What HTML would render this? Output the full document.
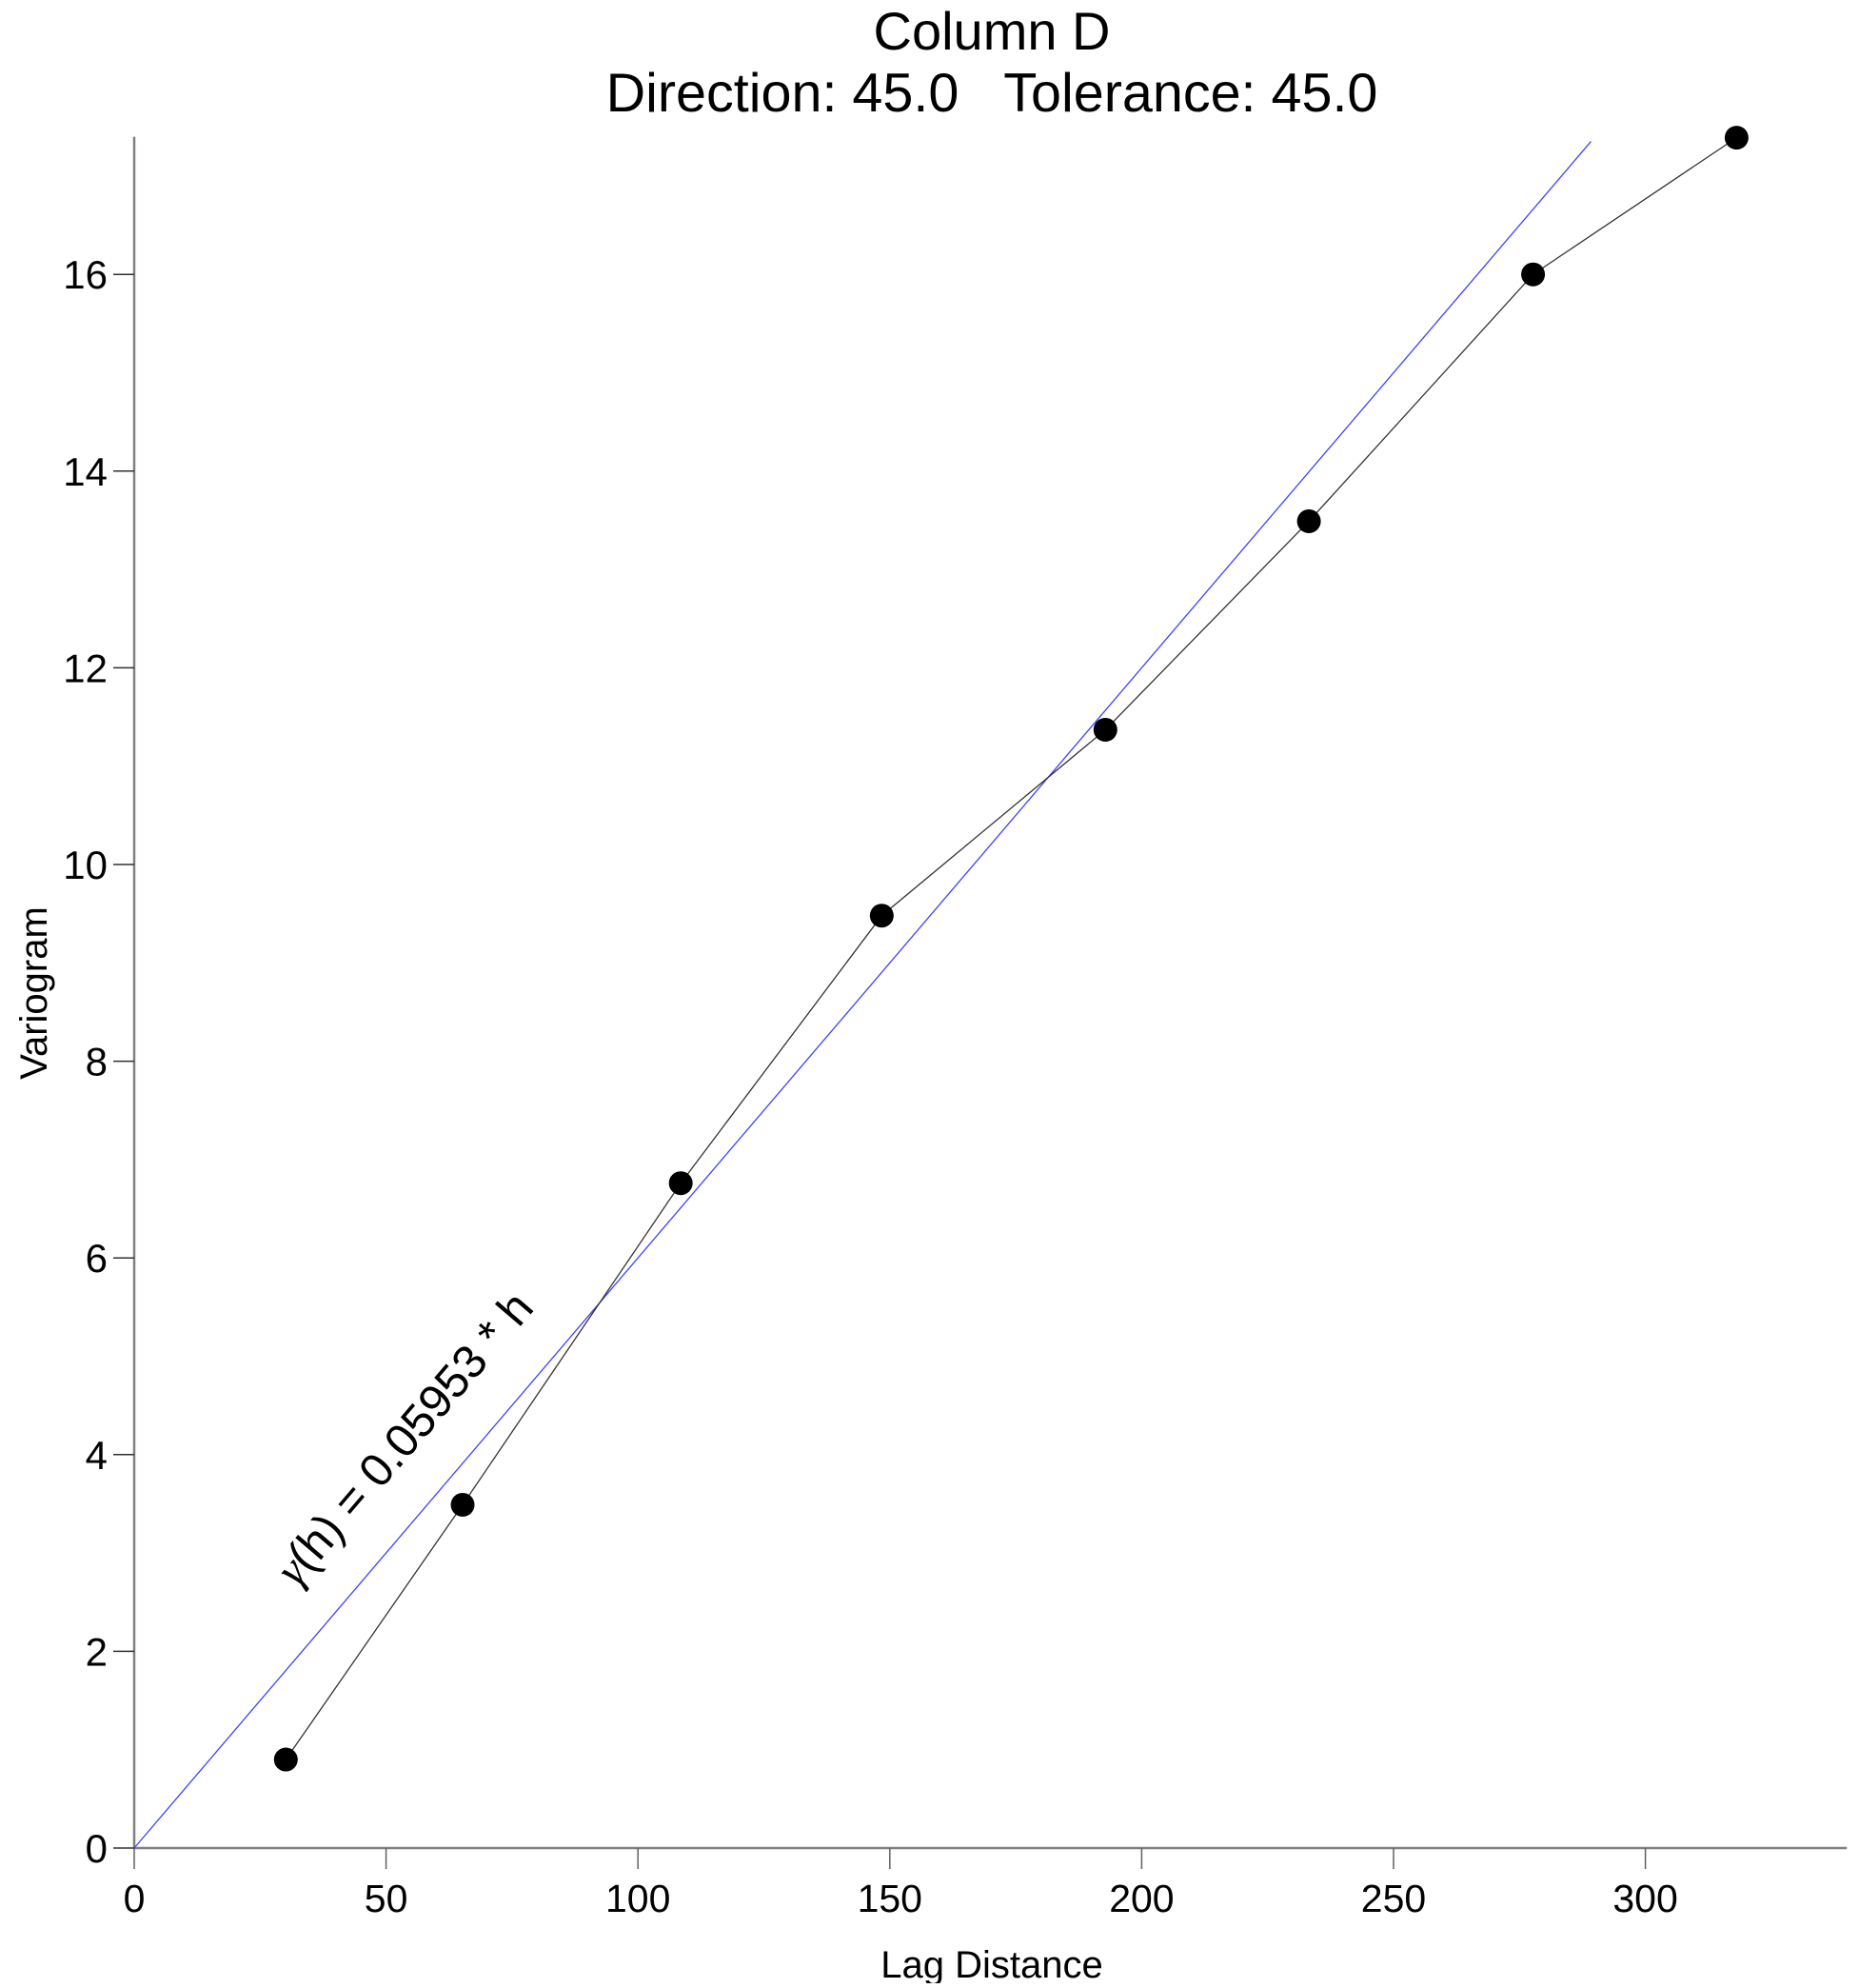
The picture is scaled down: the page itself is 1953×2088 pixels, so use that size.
<!DOCTYPE html>
<html><head><meta charset="utf-8"><style>
html,body{margin:0;padding:0;background:#fff}
svg text{font-family:"Liberation Sans",Arial,sans-serif;fill:#000}
</style></head><body>
<svg id="chart" width="1953" height="2083" viewBox="0 0 1953 2083" xmlns="http://www.w3.org/2000/svg">
<text x="1042" y="52" font-size="56" text-anchor="middle">Column D</text>
<text x="1042" y="117" font-size="57.5" text-anchor="middle" xml:space="preserve">Direction: 45.0   Tolerance: 45.0</text>
<text x="1042" y="2077" font-size="40" text-anchor="middle">Lag Distance</text>
<text transform="translate(49,1043) rotate(-90)" font-size="40" text-anchor="middle">Variogram</text>
<g id="axes"></g>
<g id="marks"></g>
</svg>
<script>
const xTicks = [0, 50, 100, 150, 200, 250, 300];
const yTicks = [0, 2, 4, 6, 8, 10, 12, 14, 16];
const lagValues = [30.1, 65.2, 108.5, 148.4, 192.8, 233.2, 277.7, 318.1];
const gammaValues = [0.90, 3.49, 6.76, 9.48, 11.37, 13.49, 16.0, 17.39];
const slope = [0.0600];
const modelRange = [0, 289.2];

const X0 = 141, XS = 5.292, Y0 = 1941, YS = 103.3;
function xs(v){ return X0 + v * XS; }
function ys(v){ return Y0 - v * YS; }
const NS = 'http://www.w3.org/2000/svg';
function mk(tag, attrs, parent){
  const e = document.createElementNS(NS, tag);
  for (const k in attrs) e.setAttribute(k, attrs[k]);
  parent.appendChild(e);
  return e;
}
const axes = document.getElementById('axes');
const marks = document.getElementById('marks');

const xa = mk('line', {x1: xs(0), y1: ys(0), x2: xs(340), y2: ys(0), stroke: '#808080', 'stroke-width': 2.5}, axes);


const ya = mk('line', {x1: xs(0), y1: ys(0), x2: xs(0), y2: ys(17.4), stroke: '#808080', 'stroke-width': 2.5}, axes);



xTicks.forEach(t => {
  const l = mk('line', {x1: xs(t), y1: Y0, x2: xs(t), y2: Y0 + 22, stroke: '#606060', 'stroke-width': 1.5}, axes);
  
  
  const tx = mk('text', {x: xs(t), y: Y0 + 67, 'font-size': 41, 'text-anchor': 'middle'}, axes);
  tx.textContent = t;
  
  
});
yTicks.forEach(t => {
  const l = mk('line', {x1: X0 - 22, y1: ys(t), x2: X0, y2: ys(t), stroke: '#303030', 'stroke-width': 1.5}, axes);
  
  
  const tx = mk('text', {x: 113, y: ys(t) + 15, 'font-size': 42, 'text-anchor': 'end'}, axes);
  tx.textContent = t;
  
  
});

const model = mk('line', {x1: xs(modelRange[0]), y1: ys(modelRange[0] * slope[0]), x2: xs(modelRange[1]), y2: ys(modelRange[1] * slope[0]), stroke: '#4040ff', 'stroke-width': 1.3}, marks);



const pts = lagValues.map((v, i) => xs(v) + ',' + ys(gammaValues[i])).join(' ');
const pl = mk('polyline', {points: pts, fill: 'none', stroke: '#333', 'stroke-width': 1.3}, marks);



lagValues.forEach((v, i) => {
  const c = mk('circle', {cx: xs(v), cy: ys(gammaValues[i]), r: 12.5, fill: '#000'}, marks);
  
  
});

const ang = -Math.atan(slope[0] * YS / XS) * 180 / Math.PI;
const eq = mk('text', {transform: 'translate(312,1668) rotate(' + ang.toFixed(2) + ')', 'font-size': 49}, marks);
eq.innerHTML = '<tspan font-style="italic" font-family="Liberation Serif, serif">γ</tspan>(h) = 0.05953 * h';


</script>
</body></html>
